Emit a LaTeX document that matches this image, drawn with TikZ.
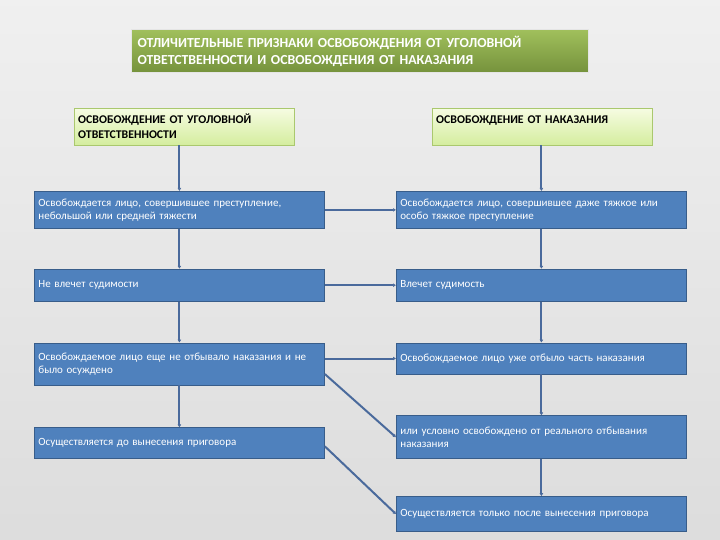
\documentclass[tikz,border=0pt]{standalone}
\usepackage{fontspec}
\setmainfont{Carlito}
\usetikzlibrary{arrows.meta,positioning}
\definecolor{boxblue}{RGB}{79,129,189}
\definecolor{boxedge}{RGB}{56,93,138}
\definecolor{linkblue}{RGB}{74,106,156}
\definecolor{titletop}{RGB}{160,192,92}
\definecolor{titlebot}{RGB}{118,146,60}
\definecolor{headtop}{RGB}{246,252,226}
\definecolor{headbot}{RGB}{212,237,158}
\definecolor{headedge}{RGB}{170,200,110}

\begin{document}
\begin{tikzpicture}[
  x=1pt, y=-1pt,
  titlebox/.style={draw=white!80!gray, line width=1pt, top color=titletop,
    bottom color=titlebot, text=white, align=left, text width=445pt,
    minimum height=43pt, inner xsep=6pt, font=\fontsize{13.8}{17}\selectfont\bfseries},
  headbox/.style={draw=headedge, top color=headtop, bottom color=headbot,
    align=left, text width=212pt, minimum height=37pt, inner xsep=4pt,
    font=\fontsize{11.8}{15}\selectfont\bfseries},
  rowbox/.style={draw=boxedge, line width=0.8pt, fill=boxblue, text=white,
    align=left, text width=282pt, minimum height=32pt, inner xsep=4pt,
    inner ysep=2pt, font=\fontsize{11}{13}\selectfont},
  link/.style={linkblue, line width=2pt, -{Latex[length=3pt,width=4pt]}}
]
\shade[top color=gray!12, bottom color=gray!27] (0,0) rectangle (720,540);
\useasboundingbox (0,0) rectangle (720,540);

\node[titlebox, anchor=north west] (title) at (131,29)
  {ОТЛИЧИТЕЛЬНЫЕ ПРИЗНАКИ ОСВОБОЖДЕНИЯ ОТ УГОЛОВНОЙ\\ОТВЕТСТВЕННОСТИ И ОСВОБОЖДЕНИЯ ОТ НАКАЗАНИЯ};

% left column
\node[headbox, anchor=north west] (lh) at (74,108)
  {ОСВОБОЖДЕНИЕ ОТ УГОЛОВНОЙ\\ОТВЕТСТВЕННОСТИ};
\node[rowbox, anchor=north west, minimum height=37pt] (l1) at (34,191)
  {Освобождается лицо, совершившее преступление,\\небольшой или средней тяжести};
\node[rowbox, below=40pt of l1] (l2) {Не влечет судимости};
\node[rowbox, below=41pt of l2, minimum height=42pt] (l3)
  {Освобождаемое лицо еще не отбывало наказания и не\\было осуждено};
\node[rowbox, below=42pt of l3, minimum height=31pt] (l4)
  {Осуществляется до вынесения приговора};

% right column
\node[headbox, anchor=north west] (rh) at (432,108)
  {ОСВОБОЖДЕНИЕ ОТ НАКАЗАНИЯ\\\mbox{}};
\node[rowbox, anchor=north west, minimum height=37pt] (r1) at (396,191)
  {Освобождается лицо, совершившее даже тяжкое или\\особо тяжкое преступление};
\node[rowbox, below=40pt of r1] (r2) {Влечет судимость};
\node[rowbox, below=41pt of r2, minimum height=31pt] (r3)
  {Освобождаемое лицо уже отбыло часть наказания};
\node[rowbox, below=41pt of r3, minimum height=43pt] (r4)
  {или условно освобождено от реального отбывания\\наказания};
\node[rowbox, below=37pt of r4, minimum height=35pt] (r5)
  {Осуществляется только после вынесения приговора};

% connectors
\draw[link] (l1.north |- lh.south) -- (l1.north);
\draw[link] (l1) -- (l2);
\draw[link] (l2) -- (l3);
\draw[link] (l3) -- (l4);
\draw[link] (r1.north |- rh.south) -- (r1.north);
\draw[link] (r1) -- (r2);
\draw[link] (r2) -- (r3);
\draw[link] (r3) -- (r4);
\draw[link] (r4) -- (r5);
\draw[link] (l1) -- (r1);
\draw[link] (l2) -- (r2);
\draw[link] (l3.east |- r3.west) -- (r3.west);
\draw[link] ([yshift=-10pt]l3.east) -- (r4.west);
\draw[link] ([yshift=-3pt]l4.east) -- (r5.west);
\end{tikzpicture}
\end{document}
